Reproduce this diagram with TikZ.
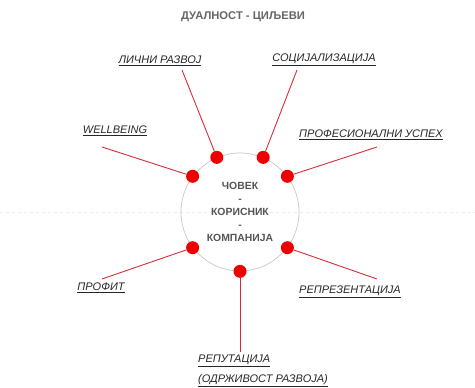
\documentclass[tikz,border=0pt]{standalone}
\usepackage{fontspec}
\setmainfont{Liberation Sans}
\usepackage{xcolor}
\usetikzlibrary{positioning}
\definecolor{dotred}{RGB}{238,0,0}
\definecolor{linkred}{RGB}{214,45,55}
\definecolor{hubgray}{RGB}{85,85,85}
\tikzset{
  hub/.style={circle, draw=black!22, line width=0.7pt, minimum size=118pt, inner sep=0pt, align=center, text=hubgray, font=\bfseries\fontsize{10.4}{13.2}\selectfont},
  dot/.style={circle, fill=dotred, minimum size=13pt, inner sep=0pt},
  goal/.style={inner sep=1pt, text=black!85, font=\itshape\fontsize{11}{20}\selectfont},
  link/.style={linkred, line width=0.9pt}
}

\begin{document}
\begin{tikzpicture}[x=1pt, y=-1pt]
  \useasboundingbox (0,0) rectangle (475,388);
  \draw[black!8, dashed, line width=0.6pt] (0,212) -- (475,212);
  \node[text=black!60, font=\bfseries\fontsize{11.2}{12}\selectfont] (title) at (243,17) {ДУАЛНОСТ - ЦИЉЕВИ};
  \node[hub] (hub) at (240,212) {ЧОВЕК\\-\\КОРИСНИК\\-\\КОМПАНИЈА};
  % goals round the hub
  \node[goal] (lichni) at (160,61) {\underline{ЛИЧНИ РАЗВОЈ}};
  \node[goal] (socijal) at (324,60) {\underline{СОЦИЈАЛИЗАЦИЈА}};
  \node[goal] (wellbeing) at (115,131) {\underline{WELLBEING}};
  \node[goal] (profesional) at (371,135) {\underline{ПРОФЕСИОНАЛНИ УСПЕХ}};
  \node[goal] (profit) at (101,288) {\underline{ПРОФИТ}};
  \node[goal] (reprezent) at (350,292) {\underline{РЕПРЕЗЕНТАЦИЈА}};
  \node[goal, align=left, anchor=north west] (reputacija) at (197,354) {\underline{РЕПУТАЦИЈА}\\\underline{(ОДРЖИВОСТ РАЗВОЈА)}};
  \coordinate (lichniend) at (182,70);
  \coordinate (socijalend) at (297,70);
  \coordinate (wellbeingend) at (102,147);
  \coordinate (profesionalend) at (377,147);
  \coordinate (profitend) at (102,279);
  \coordinate (reprezentend) at (377,279);
  \coordinate (reputacijaend) at (240,352);
  % dots on the hub
  \node[dot] (d1) at (hub.113) {};
  \node[dot] (d2) at (hub.67) {};
  \node[dot] (d3) at (hub.37) {};
  \node[dot] (d4) at (hub.143) {};
  \node[dot] (d5) at (hub.217) {};
  \node[dot] (d6) at (hub.270) {};
  \node[dot] (d7) at (hub.323) {};
  \draw[link] (d1) -- (lichniend);
  \draw[link] (d2) -- (socijalend);
  \draw[link] (d3) -- (profesionalend);
  \draw[link] (d4) -- (wellbeingend);
  \draw[link] (d5) -- (profitend);
  \draw[link] (d6) -- (reputacijaend);
  \draw[link] (d7) -- (reprezentend);
\end{tikzpicture}
\end{document}
